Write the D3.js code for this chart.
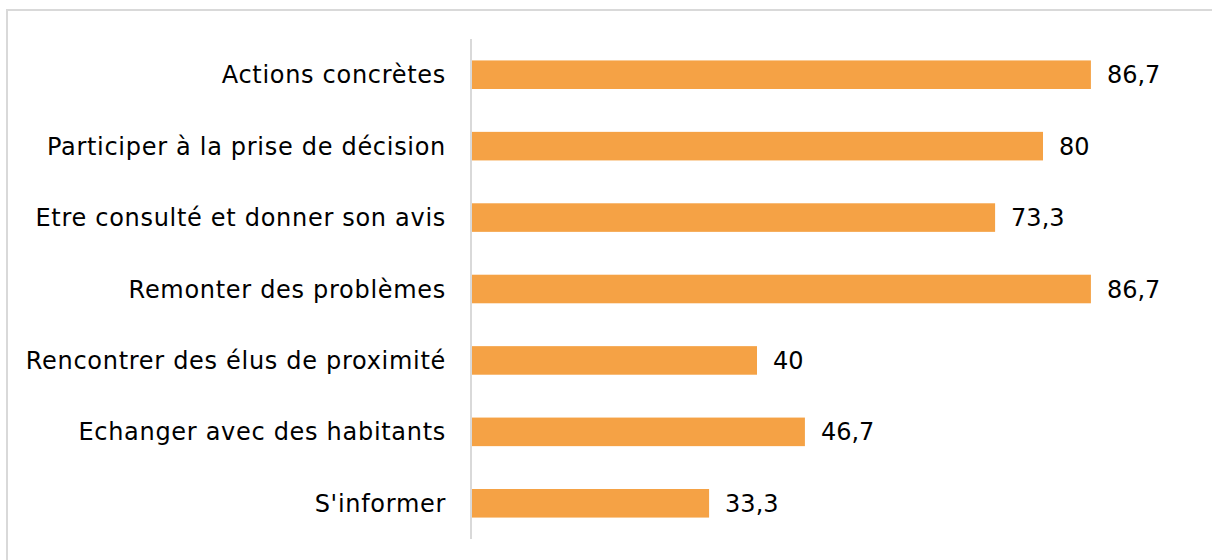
<!DOCTYPE html>
<html>
<head>
<meta charset="utf-8">
<script src="https://cdn.jsdelivr.net/npm/d3@7"></script>
<style>
  body { margin: 0; background: #fff; }
  text { font-family: "DejaVu Sans", sans-serif; fill: #000; }
</style>
</head>
<body>
<svg width="1212" height="560"></svg>
<script>
const categories = [
  "Actions concrètes",
  "Participer à la prise de décision",
  "Etre consulté et donner son avis",
  "Remonter des problèmes",
  "Rencontrer des élus de proximité",
  "Echanger avec des habitants",
  "S'informer"
];
const values = [86.7, 80, 73.3, 86.7, 40, 46.7, 33.3];
const valueLabels = ["86,7", "80", "73,3", "86,7", "40", "46,7", "33,3"];

const svg = d3.select("svg");

// chart frame (runs off the right and bottom edges)
svg.append("rect")
  .attr("x", 7).attr("y", 10)
  .attr("width", 1240).attr("height", 600)
  .attr("fill", "none")
  .attr("stroke", "#d9d9d9")
  .attr("stroke-width", 2);

const x = d3.scaleLinear().domain([0, 100]).range([471, 1186]);
const y = d3.scaleBand().domain(categories).range([39, 539]).paddingInner(0.6).paddingOuter(0.3);

svg.append("g")
  .selectAll("rect")
  .data(categories)
  .enter()
  .append("rect")
  .attr("x", x(0) + 1)
  .attr("y", d => y(d))
  .attr("width", (d, i) => x(values[i]) - x(0) - 1)
  .attr("height", y.bandwidth())
  .attr("fill", "#f5a245");

svg.append("line")
  .attr("x1", x(0)).attr("x2", x(0))
  .attr("y1", 39).attr("y2", 539)
  .attr("stroke", "#d9d9d9")
  .attr("stroke-width", 2);

svg.append("g")
  .selectAll("text")
  .data(categories)
  .enter()
  .append("text")
  .attr("x", 446)
  .attr("y", d => y(d) + y.bandwidth() / 2)
  .attr("dy", "0.36em")
  .attr("text-anchor", "end")
  .style("font-size", "24px")
  .style("letter-spacing", "0.7px")
  .text(d => d);

svg.append("g")
  .selectAll("text")
  .data(categories)
  .enter()
  .append("text")
  .attr("x", (d, i) => x(values[i]) + 16)
  .attr("y", d => y(d) + y.bandwidth() / 2)
  .attr("dy", "0.36em")
  .style("font-size", "24px")
  .text((d, i) => valueLabels[i]);
</script>
</body>
</html>
